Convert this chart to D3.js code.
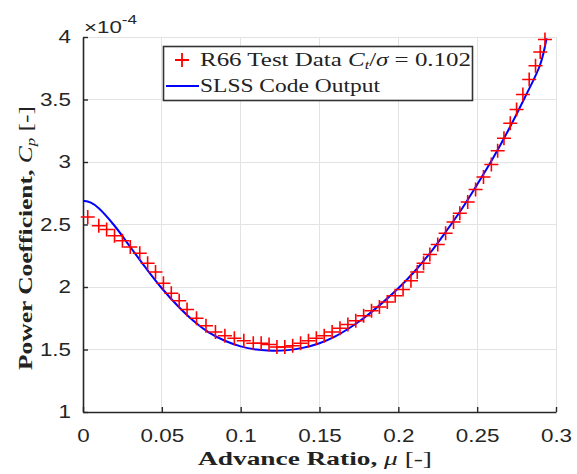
<!DOCTYPE html>
<html><head><meta charset="utf-8">
<script src="https://cdn.jsdelivr.net/npm/d3@7"></script>
<style>
html,body{margin:0;padding:0;background:#fff;}
svg{display:block;}
</style></head>
<body>
<svg id="chart" width="577" height="474"></svg>
<script>
// ---- data ----
const testMu = [0.003,0.010,0.015,0.020,0.025,0.030,0.036,0.041,0.046,0.051,0.056,0.061,0.066,0.072,0.078,0.084,0.090,0.096,0.102,0.108,0.113,0.118,0.123,0.128,0.133,0.138,0.143,0.148,0.153,0.158,0.163,0.168,0.173,0.178,0.183,0.188,0.193,0.198,0.203,0.208,0.212,0.216,0.220,0.225,0.230,0.235,0.239,0.244,0.249,0.254,0.259,0.263,0.267,0.271,0.275,0.279,0.283,0.287,0.290,0.293];
const testCp = [2.56,2.49,2.46,2.41,2.37,2.32,2.27,2.19,2.12,2.03,1.95,1.89,1.82,1.75,1.69,1.64,1.61,1.59,1.57,1.55,1.55,1.54,1.52,1.52,1.53,1.55,1.57,1.59,1.61,1.64,1.67,1.70,1.73,1.77,1.81,1.84,1.88,1.93,1.98,2.05,2.12,2.19,2.26,2.34,2.43,2.52,2.59,2.68,2.78,2.88,2.98,3.09,3.19,3.31,3.42,3.54,3.66,3.77,3.88,3.98];
const codeMu = [0,0.005,0.01,0.02,0.03,0.04,0.05,0.06,0.07,0.08,0.09,0.10,0.11,0.12,0.13,0.14,0.15,0.16,0.17,0.18,0.19,0.20,0.21,0.22,0.23,0.24,0.25,0.26,0.27,0.28,0.29,0.294];
const codeCp = [2.69,2.675,2.63,2.49,2.32,2.15,1.99,1.85,1.73,1.635,1.57,1.525,1.50,1.49,1.495,1.515,1.55,1.605,1.68,1.77,1.875,1.99,2.12,2.27,2.44,2.62,2.82,3.03,3.26,3.51,3.78,3.99];
const xTicks = [0,0.05,0.1,0.15,0.2,0.25,0.3];
const xTickLabels = ["0","0.05","0.1","0.15","0.2","0.25","0.3"];
const yTicks = [1,1.5,2,2.5,3,3.5,4];
const yTickLabels = ["1","1.5","2","2.5","3","3.5","4"];
const seriesNames = ["R66 Test Data", "SLSS Code Output"];

// ---- layout ----
const svg = d3.select("#chart");
const L = 83, R = 556, T = 37, B = 412;
const x = d3.scaleLinear().domain([0,0.3]).range([L,R]);
const y = d3.scaleLinear().domain([1,4]).range([B,T]);
const STRETCH = 1.28;
function stretch(sel, f){
  sel.each(function(){
    const w = this.getComputedTextLength();
    d3.select(this).attr("textLength", w*f).attr("lengthAdjust","spacingAndGlyphs");
  });
}

// grid
const grid = svg.append("g").attr("stroke","#e3e3e3").attr("stroke-width",1).attr("shape-rendering","crispEdges");
grid.selectAll(".gx").data(xTicks).join("line").attr("x1",d=>x(d)).attr("x2",d=>x(d)).attr("y1",T).attr("y2",B);
grid.selectAll(".gy").data(yTicks).join("line").attr("y1",d=>y(d)).attr("y2",d=>y(d)).attr("x1",L).attr("x2",R);

// axes
const xAxis = d3.axisBottom(x).tickValues(xTicks).tickFormat((d,i)=>xTickLabels[i]).tickSizeInner(-5).tickSizeOuter(0).tickPadding(13);
const yAxis = d3.axisLeft(y).tickValues(yTicks).tickFormat((d,i)=>yTickLabels[i]).tickSizeInner(-5).tickSizeOuter(0).tickPadding(12);
const gx = svg.append("g").attr("transform",`translate(0,${B})`).call(xAxis);
const gy = svg.append("g").attr("transform",`translate(${L},0)`).call(yAxis);
[gx,gy].forEach(g=>{
  g.select(".domain").attr("stroke","#262626").attr("stroke-width",1.6);
  g.selectAll(".tick line").attr("stroke","#262626").attr("stroke-width",1.4);
  g.selectAll(".tick text").attr("fill","#262626").attr("font-family","'Liberation Sans', Arial, sans-serif").attr("font-size",17.5);
});
gx.selectAll(".tick text").attr("dy","0.95em");
gy.selectAll(".tick text").attr("dy","0.34em");
stretch(gx.selectAll(".tick text"), STRETCH);
stretch(gy.selectAll(".tick text"), STRETCH);

// exponent
const ex = svg.append("text").attr("x",L+1).attr("y",33).attr("fill","#262626")
  .attr("font-family","'Liberation Sans', Arial, sans-serif").attr("font-size",17);
ex.append("tspan").text("×10");
ex.append("tspan").attr("dy",-9).attr("font-size",13).text("-4");
ex.attr("textLength",53).attr("lengthAdjust","spacingAndGlyphs");

// code output line
const line = d3.line().x((d,i)=>x(codeMu[i])).y((d,i)=>y(codeCp[i])).curve(d3.curveCatmullRom.alpha(0.5));
svg.append("path").datum(codeCp).attr("d",line).attr("fill","none").attr("stroke","#0000ff").attr("stroke-width",2);

// test markers
const plus = svg.append("g").attr("stroke","#ff0000").attr("stroke-width",1.6).attr("fill","none");
const s = 7;
plus.selectAll("path").data(testCp).join("path")
  .attr("d",(d,i)=>{const px=x(testMu[i]), py=y(d); return `M${px-s},${py}H${px+s}M${px},${py-s}V${py+s}`;});

// legend
const lg = svg.append("g");
lg.append("rect").attr("x",163.5).attr("y",46.5).attr("width",309).attr("height",54)
  .attr("fill","#fff").attr("stroke","#333").attr("stroke-width",1.6);
lg.append("path").attr("d",`M${182-7},60H${182+7}M182,53V67`).attr("stroke","#ff0000").attr("stroke-width",1.8);
lg.append("line").attr("x1",166).attr("x2",199).attr("y1",86).attr("y2",86).attr("stroke","#0000ff").attr("stroke-width",2);
const serif = "'Liberation Serif','DejaVu Serif',serif";
const t1 = lg.append("text").attr("x",200).attr("y",66).attr("font-family",serif).attr("font-size",18.5).attr("fill","#222");
t1.append("tspan").text(seriesNames[0] + " ");
t1.append("tspan").attr("font-style","italic").text("C");
t1.append("tspan").attr("font-style","italic").attr("font-size",12).attr("dy",3).text("t");
t1.append("tspan").attr("dy",-3).text("/");
t1.append("tspan").attr("font-style","italic").text("σ");
t1.append("tspan").text(" = 0.102");
t1.attr("textLength",271).attr("lengthAdjust","spacingAndGlyphs");
const t2 = lg.append("text").attr("x",200).attr("y",92).attr("font-family",serif).attr("font-size",18.5).attr("fill","#222")
  .text(seriesNames[1]).attr("textLength",180).attr("lengthAdjust","spacingAndGlyphs");

// x label
const xl = svg.append("text").attr("x",315).attr("y",465).attr("text-anchor","middle")
  .attr("font-family",serif).attr("font-size",19.5).attr("fill","#222");
xl.append("tspan").attr("font-weight","bold").text("Advance Ratio, ");
xl.append("tspan").attr("font-style","italic").text("μ");
xl.append("tspan").text(" [-]");
xl.attr("textLength",234).attr("lengthAdjust","spacingAndGlyphs");

// y label
const yl = svg.append("text").attr("transform","translate(32,238) rotate(-90)").attr("text-anchor","middle")
  .attr("font-family",serif).attr("font-size",19.5).attr("fill","#222");
yl.append("tspan").attr("font-weight","bold").text("Power Coefficient, ");
yl.append("tspan").attr("font-style","italic").text("C");
yl.append("tspan").attr("font-style","italic").attr("font-size",13).attr("dy",3).text("p");
yl.append("tspan").attr("dy",-3).text(" [-]");
yl.attr("textLength",264).attr("lengthAdjust","spacingAndGlyphs");
</script>
</body></html>
